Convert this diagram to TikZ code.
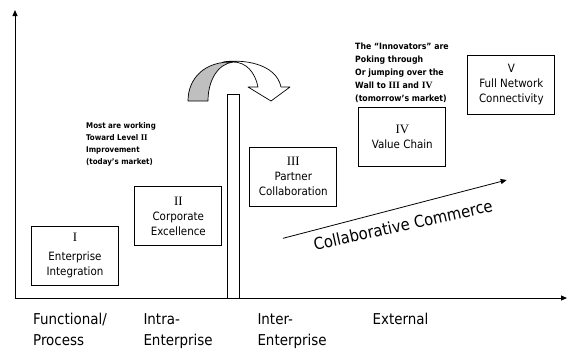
\documentclass[tikz,border=0pt]{standalone}
\usepackage{fontspec}
\setmainfont{DejaVu Sans Condensed}
\newfontfamily\numfont[Scale=1.12]{Liberation Serif}
\usetikzlibrary{positioning, arrows.meta}

\begin{document}
\begin{tikzpicture}[
	x=1bp, y=-1bp,
	font=\fontsize{11.5}{15}\selectfont,
	stage/.style={
		draw, line width=0.8bp, fill=white,
		minimum width=87bp, minimum height=59bp,
		align=center, inner sep=0pt
	},
	note/.style={font=\bfseries\fontsize{8.7}{13.1}\selectfont, align=left, inner sep=0pt, anchor=north west},
	zone/.style={font=\fontsize{15}{21}\selectfont, align=left, inner sep=0pt, anchor=north west},
	axis/.style={line width=0.9bp, -{Triangle[length=6bp, width=5bp]}},
	turn/.style={line width=0.7bp, line join=round}
	]
	
	\useasboundingbox (0,0) rectangle (569,350);
	
	% Axes
	\coordinate (origin) at (15,298);
	\coordinate (ytop) at (15,10);
	\coordinate (xend) at (567,298);
	\draw[axis] (origin) -- (ytop);
	\draw[axis] (origin) -- (xend);
	
	% The wall
	\draw[line width=0.8bp, fill=white] (227,94) rectangle (239,298);
	
	% Jump over the wall
	\draw[turn, fill=black!25] (188,101) .. controls (188,78) and (205,61) .. (233,62)
		.. controls (218,64) and (208,80) .. (208,101) -- cycle;
	\draw[turn, fill=white] (223,62) .. controls (242,59) and (276,63) .. (281,87)
		-- (290,87) -- (271,101) -- (248,87) -- (258,87)
		.. controls (255,72) and (246,62) .. (233,62) -- cycle;
	
	% Levels
	\node[stage] (lvl1) at (75,255.5) {{\numfont I}\\[4bp]Enterprise\\Integration};
	\node[stage] (lvl2) at (178.3,216.2) {{\numfont II}\\Corporate\\Excellence};
	\node[stage] (lvl3) at (293.3,176.7) {{\numfont III}\\Partner\\Collaboration};
	\node[stage] (lvl4) at (402.3,137) {{\numfont IV}\\Value Chain};
	\node[stage] (lvl5) at (511.3,84.8) {V\\Full Network\\Connectivity};
	
	% Notes
	\node[note, font=\bfseries\fontsize{7.9}{12.2}\selectfont] (today) at (86,122)
		{Most are working\\Toward Level {\numfont II}\\Improvement\\(today's market)};
	\node[note] (tomorrow) at (355,42.7)
		{The “Innovators” are\\Poking through\\Or jumping over the\\Wall to {\numfont III} and {\numfont IV}\\(tomorrow's market)};
	
	% Collaborative commerce trend
	\coordinate (ccstart) at (283,238.3);
	\coordinate (ccend) at (506.7,180);
	\draw[line width=0.8bp, -{Triangle[length=6bp, width=5bp]}] (ccstart) -- (ccend);
	\node[rotate=12.5, font=\fontsize{16.5}{20}\selectfont] (collab) at (403,225) {Collaborative Commerce};
	
	% Scope labels
	\node[zone] (func) at (33,313.3) {Functional/\\Process};
	\node[zone] (intra) at (143.3,313.3) {Intra-\\Enterprise};
	\node[zone] (inter) at (257.3,313.3) {Inter-\\Enterprise};
	\node[zone] (ext) at (372.5,312.7) {External};
	
\end{tikzpicture}
\end{document}
